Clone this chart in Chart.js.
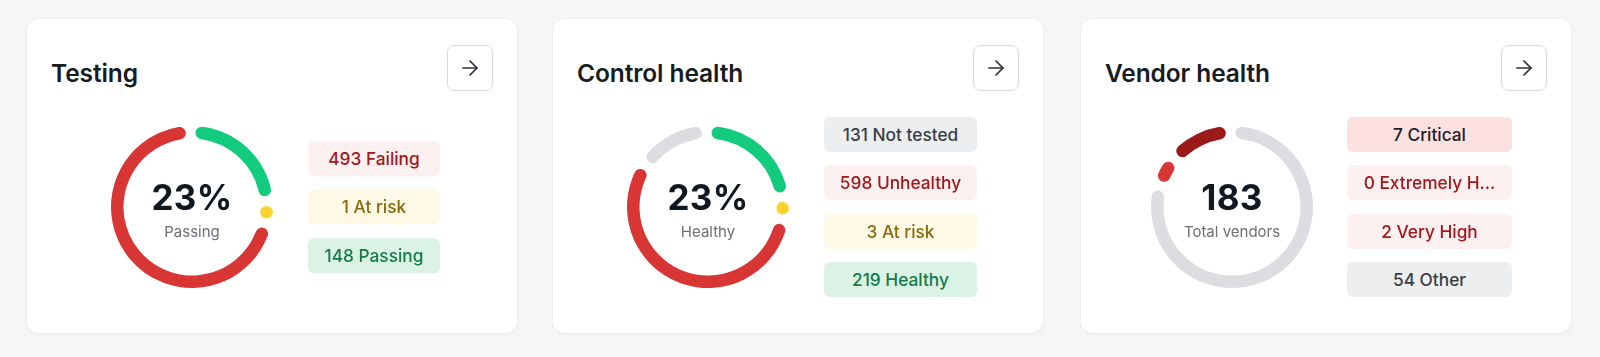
<!DOCTYPE html>
<html>
<head>
<meta charset="utf-8">
<script src="https://cdn.jsdelivr.net/npm/chart.js@4.4.1/dist/chart.umd.min.js"></script>
<style>
  html, body { margin: 0; padding: 0; }
  body { width: 1600px; height: 357px; background: #f6f6f6; position: relative; overflow: hidden;
         font-family: Inter, "Noto Sans", sans-serif; -webkit-font-smoothing: antialiased; }
  .card { position: absolute; top: 19px; width: 490px; height: 314px; background: #fff; border-radius: 12px;
          box-shadow: 0 1px 4px rgba(0,0,0,0.06), 0 0 1px rgba(0,0,0,0.04); }
  .title { position: absolute; left: 24px; top: 40px; font-size: 24.5px; font-weight: 600; color: #171c22; line-height: 29px; letter-spacing: -0.1px; }
  .btn { position: absolute; right: 24px; top: 26px; width: 44px; height: 44px; border: 1px solid #d9dcdf; border-radius: 7px;
         display: flex; align-items: center; justify-content: center; box-sizing: content-box; }
  .donut { position: absolute; top: 98px; width: 180px; height: 180px; }
  .big { position: absolute; width: 180px; text-align: center; font-size: 35px; line-height: 35px; font-weight: 700; color: #121820; top: 161px; letter-spacing: 0.3px; }
  .sub { position: absolute; width: 180px; text-align: center; font-size: 15px; line-height: 15px; font-weight: 400; color: #6b7079; top: 205px; }
  .badges { position: absolute; top: 188px; transform: translateY(-50%); display: flex; flex-direction: column; gap: 13.3px; }
  .badge { height: 35px; border-radius: 6px; display: flex; align-items: center; justify-content: center;
           font-size: 17.3px; font-weight: 500; white-space: nowrap; overflow: hidden; }
</style>
</head>
<body>
<script>
// ---- Data ----
const testingLabels = ['Failing', 'At risk', 'Passing'];
const testingCounts = [493, 1, 148];

const controlLabels = ['Not tested', 'Unhealthy', 'At risk', 'Healthy'];
const controlCounts = [131, 598, 3, 219];

const vendorLabels = ['Critical', 'Extremely H...', 'Very High', 'Other'];
const vendorCounts = [7, 0, 2, 54];
const vendorTotal = 183;

// ---- Styles ----
const RED = '#d83535', GREEN = '#12cb7c', YELLOW = '#fbd22e', GRAY = '#dcdde0', DARKRED = '#9b1a1a';
const testingRing = [RED, YELLOW, GREEN];
const controlRing = [GRAY, RED, YELLOW, GREEN];
const vendorRing = [DARKRED, RED, RED, GRAY];

const testingBadge = [['#fdf0f0', '#a3181a'], ['#fef9e7', '#8b6a0c'], ['#daf3e5', '#177a4a']];
const controlBadge = [['#eceef0', '#3a3f46'], ['#fdf0f0', '#a3181a'], ['#fef9e7', '#8b6a0c'], ['#daf3e5', '#177a4a']];
const vendorBadge = [['#fde0e0', '#1b2027'], ['#fdf0f0', '#a3181a'], ['#fdf0f0', '#a3181a'], ['#eceef0', '#3a3f46']];

// ---- Doughnut with fixed gaps and a minimum slice angle ----
class GapDoughnut extends Chart.DoughnutController {
  updateElements(arcs, start, count, mode) {
    super.updateElements(arcs, start, count, mode);
    const ds = this.getDataset();
    const vals = ds.data;
    const all = this._cachedMeta.data;
    const D = Math.PI / 180;
    const pad = ds.padAngle * D, minA = ds.minAngle * D, dotA = ds.dotAngle * D;
    const total = vals.reduce((s, v) => s + v, 0);
    const nz = vals.filter(v => v > 0).length;
    const R = 2 * Math.PI - nz * pad - nz * minA;
    const raw = vals.map(v => v > 0 ? minA + v / total * R : 0);
    const isDot = raw.map(a => a > 0 && a < dotA);
    const dotSum = isDot.filter(Boolean).length * dotA;
    const restRaw = raw.reduce((s, a, i) => s + (isDot[i] ? 0 : a), 0);
    const avail = 2 * Math.PI - nz * pad - dotSum;
    const ang = raw.map((a, i) => a === 0 ? 0 : (isDot[i] ? dotA : a * avail / restRaw));
    let a = this._getRotation() + ds.startGap * D;
    for (let i = 0; i < all.length; i++) {
      const arc = all[i];
      arc.startAngle = a;
      arc.endAngle = a + ang[i];
      arc.circumference = ang[i];
      if (ang[i] > 0) a += ang[i] + pad;
    }
  }
}
GapDoughnut.id = 'gapDoughnut';
GapDoughnut.defaults = Chart.DoughnutController.defaults;
GapDoughnut.overrides = Chart.DoughnutController.overrides;
Chart.register(GapDoughnut);

const cards = [
  { title: 'Testing', left: 27, cx: 165, bl: 281, bw: 132, labels: testingLabels, counts: testingCounts, ring: testingRing, badge: testingBadge,
    big: Math.round(testingCounts[2] / testingCounts.reduce((s, v) => s + v, 0) * 100) + '%', sub: 'Passing' },
  { title: 'Control health', left: 553, cx: 155, bl: 271, bw: 153, labels: controlLabels, counts: controlCounts, ring: controlRing, badge: controlBadge,
    big: Math.round(controlCounts[3] / controlCounts.reduce((s, v) => s + v, 0) * 100) + '%', sub: 'Healthy' },
  { title: 'Vendor health', left: 1081, cx: 151, bl: 266, bw: 165, labels: vendorLabels, counts: vendorCounts, ring: vendorRing, badge: vendorBadge,
    big: String(vendorTotal), sub: 'Total vendors' },
];

const arrowSvg = '<svg width="24" height="24" viewBox="0 0 24 24" fill="none" stroke="#2b3036" stroke-width="1.7" stroke-linecap="round" stroke-linejoin="round"><path d="M5 12h14"/><path d="m12 5 7 7-7 7"/></svg>';

cards.forEach(c => {
  const card = document.createElement('div');
  card.className = 'card';
  card.style.left = c.left + 'px';
  card.innerHTML = `<div class="title">${c.title}</div><div class="btn">${arrowSvg}</div>`;

  const donut = document.createElement('div');
  donut.className = 'donut';
  donut.style.left = (c.cx - 90) + 'px';
  const canvas = document.createElement('canvas');
  donut.appendChild(canvas);
  card.appendChild(donut);

  const big = document.createElement('div');
  big.className = 'big'; big.style.left = (c.cx - 90) + 'px'; big.textContent = c.big;
  const sub = document.createElement('div');
  sub.className = 'sub'; sub.style.left = (c.cx - 90) + 'px'; sub.textContent = c.sub;
  card.appendChild(big); card.appendChild(sub);

  const badges = document.createElement('div');
  badges.className = 'badges';
  badges.style.left = c.bl + 'px';
  badges.style.width = c.bw + 'px';
  c.labels.forEach((lab, i) => {
    const b = document.createElement('div');
    b.className = 'badge';
    b.style.background = c.badge[i][0];
    b.style.color = c.badge[i][1];
    b.textContent = c.counts[i] + ' ' + lab;
    badges.appendChild(b);
  });
  card.appendChild(badges);
  document.body.appendChild(card);

  // ring is drawn clockwise from the top in reverse list order
  new Chart(canvas, {
    type: 'gapDoughnut',
    data: {
      labels: c.labels.slice().reverse(),
      datasets: [{
        data: c.counts.slice().reverse(),
        backgroundColor: c.ring.slice().reverse(),
        borderWidth: 0,
        borderRadius: 6.25,
        padAngle: 7.5,
        minAngle: 6,
        dotAngle: 9.6,
        startGap: 2.75,
      }]
    },
    options: {
      responsive: true,
      maintainAspectRatio: false,
      animation: false,
      radius: 81,
      cutout: '84.57%',
      layout: { padding: 0 },
      plugins: { legend: { display: false }, tooltip: { enabled: false } },
      events: [],
    }
  });
});
</script>
</body>
</html>
